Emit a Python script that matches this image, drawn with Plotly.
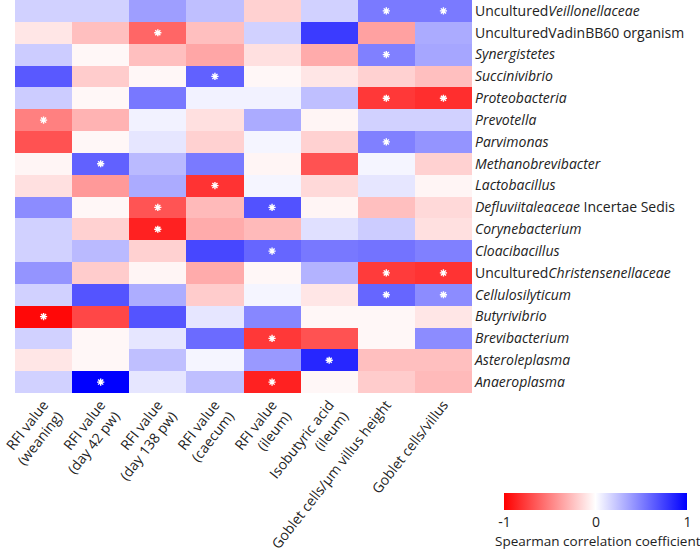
import plotly.graph_objects as go

columns = ["RFI value<br>(weaning)", "RFI value<br>(day 42 pw)", "RFI value<br>(day 138 pw)",
           "RFI value<br>(caecum)", "RFI value<br>(ileum)", "Isobutyric acid<br>(ileum)",
           "Goblet cells/µm villus height", "Goblet cells/villus"]

taxa = ["Uncultured<i>Veillonellaceae</i>", "UnculturedVadinBB60 organism", "<i>Synergistetes</i>",
        "<i>Succinivibrio</i>", "<i>Proteobacteria</i>", "<i>Prevotella</i>", "<i>Parvimonas</i>",
        "<i>Methanobrevibacter</i>", "<i>Lactobacillus</i>", "<i>Defluviitaleaceae</i> Incertae Sedis",
        "<i>Corynebacterium</i>", "<i>Cloacibacillus</i>", "Uncultured<i>Christensenellaceae</i>",
        "<i>Cellulosilyticum</i>", "<i>Butyrivibrio</i>", "<i>Brevibacterium</i>",
        "<i>Asteroleplasma</i>", "<i>Anaeroplasma</i>"]

# Spearman correlation coefficients (rows = taxa, columns = variables)
veillonellaceae   = [0.18, 0.18, 0.38, 0.25, -0.18, 0.18, 0.52, 0.52]
vadinbb60         = [-0.10, -0.25, -0.60, -0.25, 0.18, 0.77, -0.37, 0.33]
synergistetes     = [0.20, -0.03, -0.25, -0.35, -0.12, -0.33, 0.50, 0.35]
succinivibrio     = [0.65, -0.20, -0.03, 0.62, -0.03, -0.10, -0.18, -0.25]
proteobacteria    = [0.20, -0.03, 0.53, 0.05, 0.05, 0.25, -0.78, -0.82]
prevotella        = [-0.50, -0.30, 0.05, -0.12, 0.33, -0.04, 0.18, 0.18]
parvimonas        = [-0.68, -0.03, 0.10, -0.18, 0.04, -0.18, 0.50, 0.42]
methanobrevibacter = [-0.04, 0.62, 0.27, 0.52, -0.04, -0.68, 0.04, -0.18]
lactobacillus     = [-0.12, -0.40, 0.33, -0.80, 0.04, -0.15, 0.10, -0.04]
defluviitaleaceae = [0.45, -0.03, -0.67, -0.27, 0.68, -0.04, -0.25, -0.15]
corynebacterium   = [0.18, -0.18, -0.87, -0.33, -0.27, 0.12, 0.20, -0.12]
cloacibacillus    = [0.18, 0.27, -0.18, 0.72, 0.60, 0.53, 0.55, 0.50]
christensenellaceae = [0.42, -0.20, -0.04, -0.33, -0.03, 0.30, -0.77, -0.80]
cellulosilyticum  = [0.18, 0.67, 0.32, -0.20, 0.04, -0.10, 0.60, 0.45]
butyrivibrio      = [-0.97, -0.72, 0.67, 0.10, 0.47, -0.03, -0.03, -0.10]
brevibacterium    = [0.18, -0.03, 0.10, 0.58, -0.78, -0.68, -0.03, 0.45]
asteroleplasma    = [-0.10, -0.03, 0.25, 0.04, 0.40, 0.85, -0.25, -0.25]
anaeroplasma      = [0.18, 1.00, 0.10, 0.25, -0.87, -0.03, -0.20, -0.27]

values = [veillonellaceae, vadinbb60, synergistetes, succinivibrio, proteobacteria, prevotella,
          parvimonas, methanobrevibacter, lactobacillus, defluviitaleaceae, corynebacterium,
          cloacibacillus, christensenellaceae, cellulosilyticum, butyrivibrio, brevibacterium,
          asteroleplasma, anaeroplasma]

# significant cells (row index, column index)
significant = [(0, 6), (0, 7), (1, 2), (2, 6), (3, 3), (4, 6), (4, 7), (5, 0), (6, 6), (7, 1),
               (8, 3), (9, 2), (9, 4), (10, 2), (11, 4), (12, 6), (12, 7), (13, 6), (13, 7),
               (14, 0), (15, 4), (16, 5), (17, 1), (17, 4)]

colorbar_title = "Spearman correlation coefficient"

font_family = "Open Sans"

fig = go.Figure()
fig.add_trace(go.Heatmap(
    z=values,
    x=list(range(len(columns))),
    y=list(range(len(taxa))),
    zmin=-1, zmax=1,
    colorscale=[[0, "#ff0000"], [0.5, "#ffffff"], [1, "#0000ff"]],
    colorbar=dict(
        orientation="h",
        x=(596 - 15) / 457, xanchor="center",
        y=(393 - 493) / 393, yanchor="top",
        lenmode="pixels", len=183,
        thickness=17, xpad=0, ypad=0,
        outlinewidth=0,
        tickvals=[-1, 0, 1], ticktext=["-1", "0", "1"],
        ticks="",
        tickfont=dict(family=font_family, size=14, color="#222"),
    ),
    hoverinfo="skip",
))

fig.add_trace(go.Scatter(
    x=[c for r, c in significant],
    y=[r for r, c in significant],
    mode="markers",
    marker=dict(symbol="asterisk-open", size=6, color="white",
                line=dict(color="white", width=1.4)),
    hoverinfo="skip",
    showlegend=False,
))

fig.add_annotation(
    text=colorbar_title, xref="paper", yref="paper",
    x=(598 - 15) / 457, y=(393 - 541) / 393, xanchor="center", yanchor="middle",
    showarrow=False, font=dict(family=font_family, size=13.5, color="#222"),
)

fig.update_layout(
    width=700, height=556,
    margin=dict(l=15, r=228, t=0, b=163, autoexpand=False),
    paper_bgcolor="white", plot_bgcolor="white",
    showlegend=False,
    xaxis=dict(
        tickvals=list(range(len(columns))), ticktext=columns,
        tickangle=-52, range=[-0.5, 7.5], showgrid=False, zeroline=False,
        ticks="", automargin=False, ticklabeloverflow="allow",
        tickfont=dict(family=font_family, size=14, color="#222"),
    ),
    yaxis=dict(
        tickvals=list(range(len(taxa))), ticktext=taxa,
        side="right", range=[17.5, -0.5], showgrid=False, zeroline=False,
        ticks="", ticklabelstandoff=2, automargin=False, ticklabeloverflow="allow",
        tickfont=dict(family=font_family, size=14, color="#222"),
    ),
)

fig.write_html("out.html", config={"displayModeBar": False},
               post_script="document.body.style.margin='0';")
